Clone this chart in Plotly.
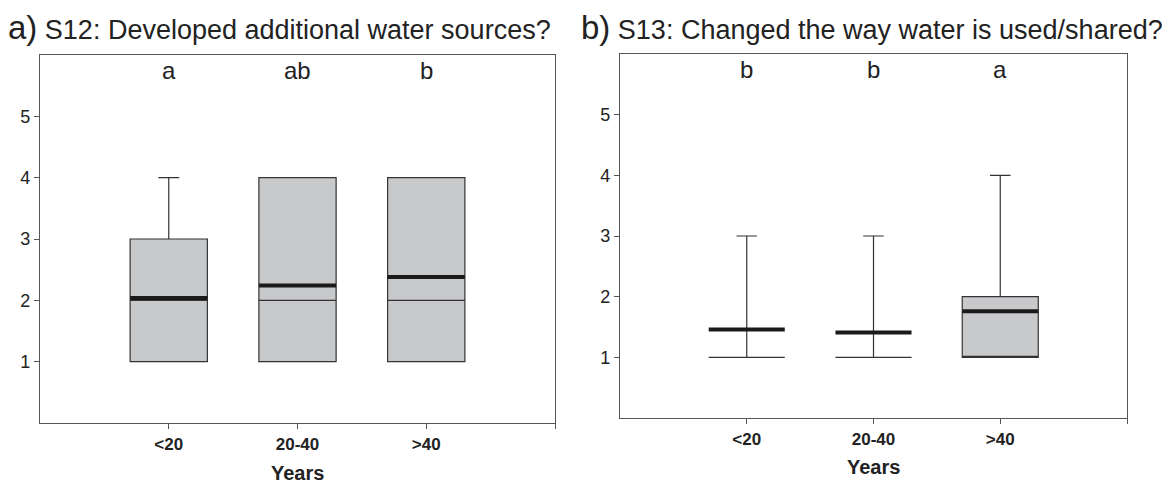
import plotly.graph_objects as go

categories = ["<20", "20-40", ">40"]
cat_pos = [1, 2, 3]

# Panel a) S12
a_q1 = [1, 1, 1]
a_median = [2, 2, 2]
a_q3 = [3, 4, 4]
a_low = [1, 1, 1]
a_up = [4, 4, 4]
a_mean = [2.04, 2.24, 2.38]
a_letters = ["a", "ab", "b"]

# Panel b) S13
b_q1 = [1, 1, 1]
b_median = [1, 1, 1]
b_q3 = [1, 1, 2]
b_low = [1, 1, 1]
b_up = [3, 3, 4]
b_mean = [1.46, 1.41, 1.76]
b_letters = ["b", "b", "a"]

y_ticks = [1, 2, 3, 4, 5]

FONT = "Liberation Sans, Arial, Helvetica, sans-serif"
FILL = "#c8c9cb"
LINE = "#333333"
TXT = "#222222"
BOXW = 0.6

# page body has an 8px margin; figure sized to the visible window area
OFF = 8
W, H = 1170 - OFF, 483 - OFF


def fx(px):
    return (px - OFF) / W


def fy(py):
    return 1 - (py - OFF) / H


fig = go.Figure()


def add_panel(q1, med, q3, lo, up, mean, xa, ya):
    fig.add_trace(go.Box(
        x=cat_pos, q1=q1, median=med, q3=q3, lowerfence=lo, upperfence=up,
        width=BOXW, whiskerwidth=0.27, fillcolor=FILL,
        line=dict(color=LINE, width=1.2), boxpoints=False,
        xaxis=xa, yaxis=ya, showlegend=False, hoverinfo="skip"))
    for xp, m in zip(cat_pos, mean):
        fig.add_trace(go.Scatter(
            x=[xp - BOXW / 2, xp + BOXW / 2], y=[m, m], mode="lines",
            line=dict(color="#1a1a1a", width=4), xaxis=xa, yaxis=ya,
            showlegend=False, hoverinfo="skip"))


add_panel(a_q1, a_median, a_q3, a_low, a_up, a_mean, "x", "y")
add_panel(b_q1, b_median, b_q3, b_low, b_up, b_mean, "x2", "y2")

xcommon = dict(range=[0, 4], tickvals=cat_pos + [4],
               ticktext=["<b>%s</b>" % c for c in categories] + [""],
               ticks="outside", ticklen=5, tickcolor="#555", showline=True,
               linecolor="#555", linewidth=1.2, mirror=True, showgrid=False,
               zeroline=False, automargin=False,
               tickfont=dict(family=FONT, size=17, color=TXT))
ycommon = dict(range=[0, 6], tickvals=y_ticks, ticks="outside", ticklen=5,
               tickcolor="#555", showline=True, linecolor="#555", linewidth=1.2,
               mirror=True, showgrid=False, zeroline=False, automargin=False,
               tickfont=dict(family=FONT, size=18, color=TXT))

fig.update_layout(
    width=W, height=H, margin=dict(l=0, r=0, t=0, b=0),
    paper_bgcolor="white", plot_bgcolor="white",
    xaxis=dict(domain=[fx(40), fx(555)], anchor="y", **xcommon),
    yaxis=dict(domain=[fy(423), fy(55)], anchor="x", **ycommon),
    xaxis2=dict(domain=[fx(620), fx(1127)], anchor="y2", **xcommon),
    yaxis2=dict(domain=[fy(418), fy(54)], anchor="x2", **ycommon),
)

for xp, t in zip(cat_pos, a_letters):
    fig.add_annotation(x=xp, y=5.74, xref="x", yref="y", text=t, showarrow=False,
                       font=dict(family=FONT, size=24, color=TXT))
for xp, t in zip(cat_pos, b_letters):
    fig.add_annotation(x=xp, y=5.74, xref="x2", yref="y2", text=t, showarrow=False,
                       font=dict(family=FONT, size=24, color=TXT))

# axis titles
fig.add_annotation(x=2, y=fy(473), xref="x", yref="paper", text="<b>Years</b>",
                   showarrow=False, yanchor="middle",
                   font=dict(family=FONT, size=20, color=TXT))
fig.add_annotation(x=2, y=fy(467), xref="x2", yref="paper", text="<b>Years</b>",
                   showarrow=False, yanchor="middle",
                   font=dict(family=FONT, size=20, color=TXT))

fig.add_annotation(x=fx(6), y=fy(27), xref="paper", yref="paper",
                   xanchor="left", yanchor="middle", showarrow=False,
                   text="<span style='font-size:33px'>a)</span> S12: Developed additional water sources?",
                   font=dict(family=FONT, size=27, color=TXT))
fig.add_annotation(x=fx(1165), y=fy(27), xref="paper", yref="paper",
                   xanchor="right", yanchor="middle", showarrow=False,
                   text="<span style='font-size:33px'>b)</span> S13: Changed the way water is used/shared?",
                   font=dict(family=FONT, size=27, color=TXT))

fig.write_html("out.html")
